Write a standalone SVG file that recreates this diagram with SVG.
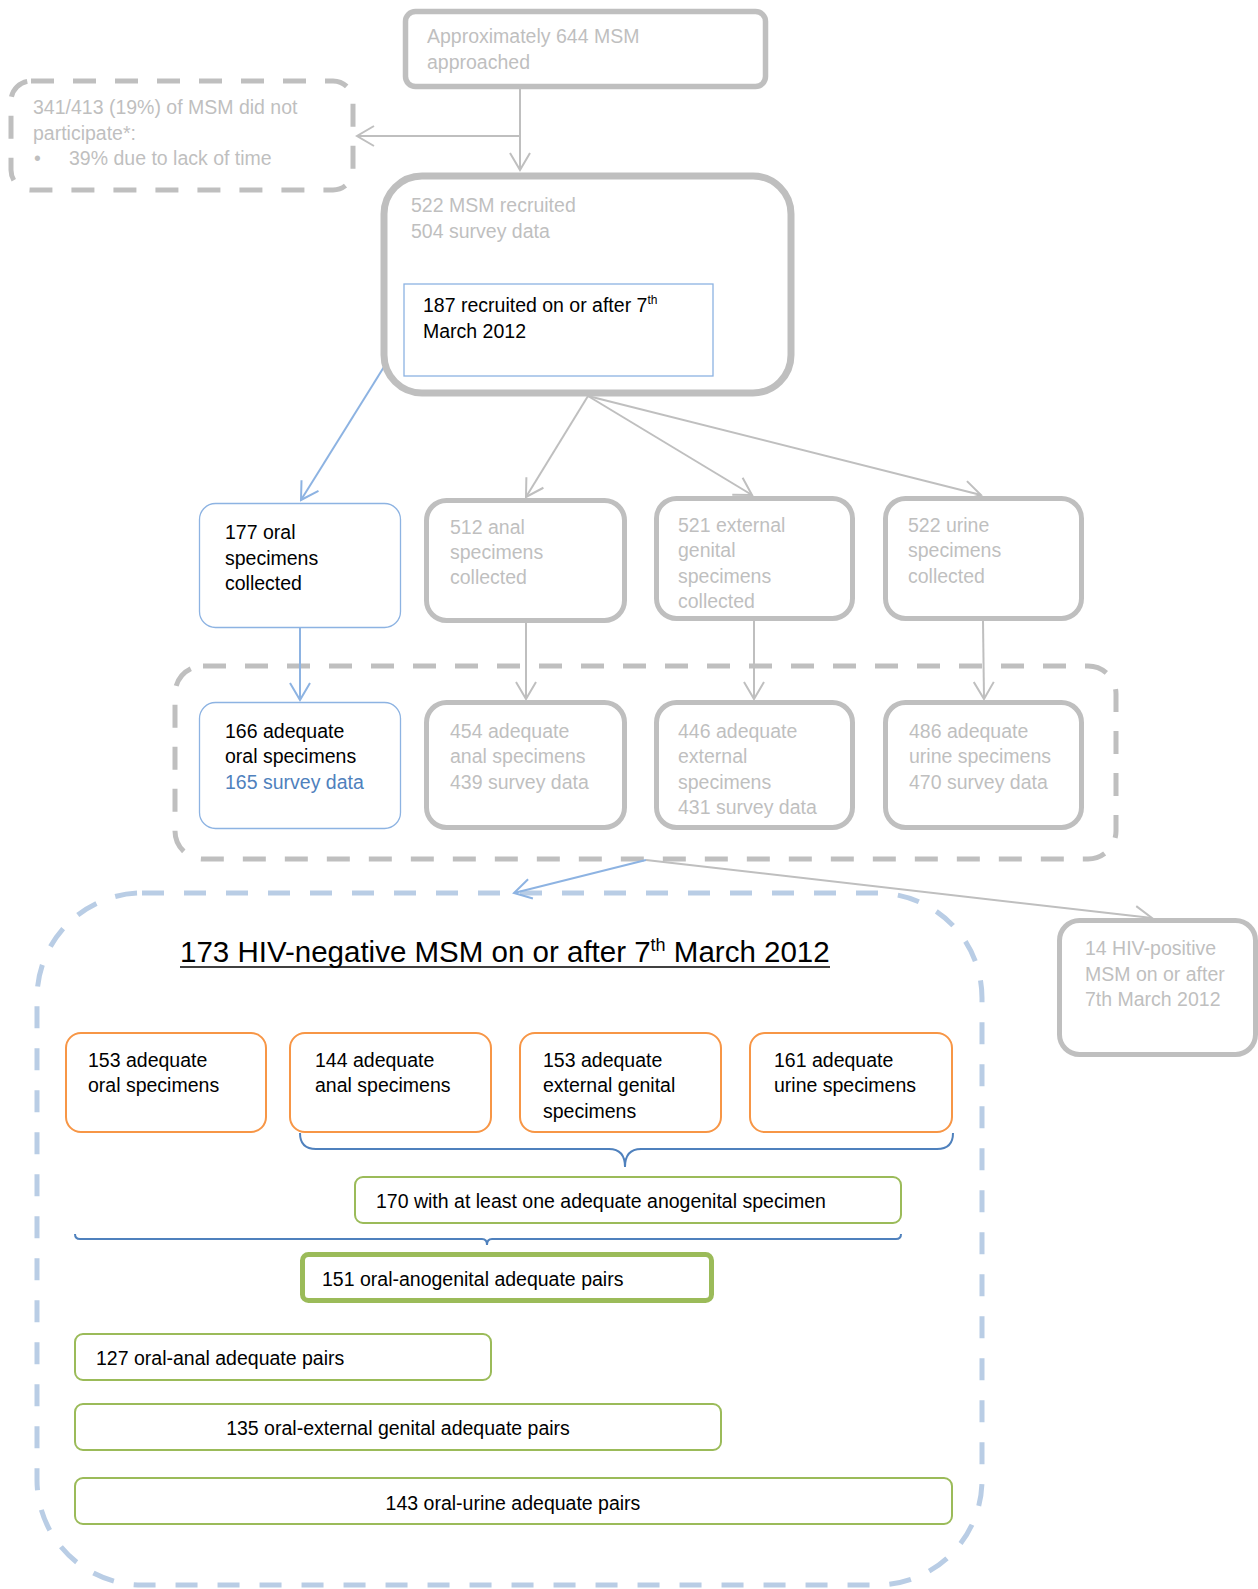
<svg xmlns="http://www.w3.org/2000/svg" width="1258" height="1589" viewBox="0 0 1258 1589">
<style>
text{font-family:"Liberation Sans",Arial,sans-serif;font-size:19.5px;fill:#000}
.g{fill:#bfbfbf}
.bt{fill:#4f81bd}
.gbox{fill:#fff;stroke:#bfbfbf;stroke-width:5}
.gdash{fill:none;stroke:#bfbfbf;stroke-width:5;stroke-dasharray:23 19}
.bdash{fill:none;stroke:#b9cde5;stroke-width:5;stroke-dasharray:22 20}
.bbox{fill:#fff;stroke:#8db3e2;stroke-width:1.3}
.obox{fill:#fff;stroke:#f79646;stroke-width:2}
.grn{fill:#fff;stroke:#9bbb59;stroke-width:2}
.gline{fill:none;stroke:#bfbfbf;stroke-width:2}
.bline{fill:none;stroke:#8db3e2;stroke-width:2}
.brace{fill:none;stroke:#4f81bd;stroke-width:2}
.sup{font-size:12px}
</style>
<defs>
<marker id="ag" markerUnits="userSpaceOnUse" markerWidth="20" markerHeight="22" viewBox="0 0 20 22" refX="18" refY="11" orient="auto"><path d="M1,1 L18,11 L1,21" fill="none" stroke="#bfbfbf" stroke-width="2"/></marker>
<marker id="ab" markerUnits="userSpaceOnUse" markerWidth="20" markerHeight="22" viewBox="0 0 20 22" refX="18" refY="11" orient="auto"><path d="M1,1 L18,11 L1,21" fill="none" stroke="#8db3e2" stroke-width="2"/></marker>
</defs>
<rect width="1258" height="1589" fill="#fff"/>

<g id="group-adequate">
<rect class="gdash" x="175" y="666" width="941" height="193" rx="28"/>
</g>
<g id="group-hivneg">
<rect class="bdash" x="37" y="893" width="945" height="692" rx="105"/>
</g>

<g id="connectors">
<line class="gline" x1="520" y1="89" x2="520" y2="170" marker-end="url(#ag)"/>
<line class="gline" x1="520" y1="136" x2="357" y2="136" marker-end="url(#ag)"/>
<line class="bline" x1="402" y1="338" x2="301" y2="500" marker-end="url(#ab)"/>
<line class="gline" x1="588" y1="396" x2="526" y2="497" marker-end="url(#ag)"/>
<line class="gline" x1="588" y1="396" x2="752" y2="495" marker-end="url(#ag)"/>
<line class="gline" x1="588" y1="396" x2="981" y2="495" marker-end="url(#ag)"/>
<line class="bline" x1="300" y1="628" x2="300" y2="700" marker-end="url(#ab)"/>
<line class="gline" x1="526" y1="623" x2="526" y2="699" marker-end="url(#ag)"/>
<line class="gline" x1="754" y1="621" x2="754" y2="699" marker-end="url(#ag)"/>
<line class="gline" x1="983" y1="621" x2="984" y2="699" marker-end="url(#ag)"/>
<line class="bline" x1="646" y1="860" x2="514" y2="893" marker-end="url(#ab)"/>
<line class="gline" x1="646" y1="860" x2="1152" y2="918" marker-end="url(#ag)"/>
<path class="brace" d="M300,1133 Q300,1149 316,1149 L609,1149 Q625,1149 625,1167 Q625,1149 641,1149 L937,1149 Q953,1149 953,1133"/>
<path class="brace" d="M75,1234 Q75,1239 80,1239 L482,1239 Q487,1239 487,1245 Q487,1239 492,1239 L896,1239 Q901,1239 901,1234"/>
</g>

<g id="approached">
<rect class="gbox" x="405.5" y="11.5" width="360" height="75" rx="10" style="stroke-width:5.5"/>
<text class="g" x="427" y="43">Approximately 644 MSM</text>
<text class="g" x="427" y="69">approached</text>
</g>

<g id="not-participate">
<rect class="gdash" x="11" y="81" width="342" height="109" rx="20"/>
<text class="g" x="33" y="114">341/413 (19%) of MSM did not</text>
<text class="g" x="33" y="140">participate*:</text>
<text class="g" x="34" y="165">•</text>
<text class="g" x="69" y="165">39% due to lack of time</text>
</g>

<g id="recruited">
<rect class="gbox" x="384" y="176" width="407" height="217" rx="38" style="stroke-width:7"/>
<text class="g" x="411" y="212">522 MSM recruited</text>
<text class="g" x="411" y="238">504 survey data</text>
</g>

<g id="recruited-after">
<rect x="404" y="284" width="309" height="92" fill="#fff" stroke="#8db3e2" stroke-width="1.3"/>
<text x="423" y="312">187 recruited on or after 7<tspan class="sup" dy="-8">th</tspan></text>
<text x="423" y="338">March 2012</text>
</g>

<g id="oral-collected">
<rect class="bbox" x="199.5" y="503.5" width="201" height="124" rx="16"/>
<text x="225" y="539">177 oral</text>
<text x="225" y="565">specimens</text>
<text x="225" y="590">collected</text>
</g>
<g id="anal-collected">
<rect class="gbox" x="426.5" y="500.5" width="198" height="120" rx="20"/>
<text class="g" x="450" y="534">512 anal</text>
<text class="g" x="450" y="559">specimens</text>
<text class="g" x="450" y="584">collected</text>
</g>
<g id="external-collected">
<rect class="gbox" x="656.5" y="498.5" width="196" height="120" rx="20"/>
<text class="g" x="678" y="532">521 external</text>
<text class="g" x="678" y="557">genital</text>
<text class="g" x="678" y="583">specimens</text>
<text class="g" x="678" y="608">collected</text>
</g>
<g id="urine-collected">
<rect class="gbox" x="885.5" y="498.5" width="196" height="120" rx="20"/>
<text class="g" x="908" y="532">522 urine</text>
<text class="g" x="908" y="557">specimens</text>
<text class="g" x="908" y="583">collected</text>
</g>

<g id="oral-adequate">
<rect class="bbox" x="199.5" y="702.5" width="201" height="126" rx="16"/>
<text x="225" y="738">166 adequate</text>
<text x="225" y="763">oral specimens</text>
<text class="bt" x="225" y="789">165 survey data</text>
</g>
<g id="anal-adequate">
<rect class="gbox" x="426.5" y="702.5" width="198" height="125" rx="20"/>
<text class="g" x="450" y="738">454 adequate</text>
<text class="g" x="450" y="763">anal specimens</text>
<text class="g" x="450" y="789">439 survey data</text>
</g>
<g id="external-adequate">
<rect class="gbox" x="656.5" y="702.5" width="196" height="125" rx="20"/>
<text class="g" x="678" y="738">446 adequate</text>
<text class="g" x="678" y="763">external</text>
<text class="g" x="678" y="789">specimens</text>
<text class="g" x="678" y="814">431 survey data</text>
</g>
<g id="urine-adequate">
<rect class="gbox" x="885.5" y="702.5" width="196" height="125" rx="20"/>
<text class="g" x="909" y="738">486 adequate</text>
<text class="g" x="909" y="763">urine specimens</text>
<text class="g" x="909" y="789">470 survey data</text>
</g>

<g id="hiv-positive">
<rect class="gbox" x="1059.5" y="920.5" width="196" height="134" rx="20"/>
<text class="g" x="1085" y="955">14 HIV-positive</text>
<text class="g" x="1085" y="981">MSM on or after</text>
<text class="g" x="1085" y="1006">7th March 2012</text>
</g>

<g id="hiv-negative-title">
<text x="180" y="962" style="font-size:29.5px">173 HIV-negative MSM on or after 7<tspan style="font-size:18px" dy="-11">th</tspan><tspan dy="11"> March 2012</tspan></text>
<line x1="180" y1="967" x2="830" y2="967" stroke="#000" stroke-width="1.6"/>
</g>

<g id="oral-153">
<rect class="obox" x="66" y="1033" width="200" height="99" rx="15"/>
<text x="88" y="1067">153 adequate</text>
<text x="88" y="1092">oral specimens</text>
</g>
<g id="anal-144">
<rect class="obox" x="290" y="1033" width="201" height="99" rx="15"/>
<text x="315" y="1067">144 adequate</text>
<text x="315" y="1092">anal specimens</text>
</g>
<g id="external-153">
<rect class="obox" x="520" y="1033" width="201" height="99" rx="15"/>
<text x="543" y="1067">153 adequate</text>
<text x="543" y="1092">external genital</text>
<text x="543" y="1118">specimens</text>
</g>
<g id="urine-161">
<rect class="obox" x="750" y="1033" width="202" height="99" rx="15"/>
<text x="774" y="1067">161 adequate</text>
<text x="774" y="1092">urine specimens</text>
</g>

<g id="anogenital-170">
<rect class="grn" x="355" y="1177" width="546" height="46" rx="8"/>
<text x="376" y="1208">170 with at least one adequate anogenital specimen</text>
</g>
<g id="pairs-151">
<rect class="grn" x="302.5" y="1254.5" width="409" height="46" rx="6" style="stroke-width:5"/>
<text x="322" y="1286">151 oral-anogenital adequate pairs</text>
</g>
<g id="pairs-127">
<rect class="grn" x="75" y="1334" width="416" height="46" rx="8"/>
<text x="96" y="1365">127 oral-anal adequate pairs</text>
</g>
<g id="pairs-135">
<rect class="grn" x="75" y="1404" width="646" height="46" rx="8"/>
<text x="398" y="1435" text-anchor="middle">135 oral-external genital adequate pairs</text>
</g>
<g id="pairs-143">
<rect class="grn" x="75" y="1478" width="877" height="46" rx="8"/>
<text x="513" y="1510" text-anchor="middle">143 oral-urine adequate pairs</text>
</g>
</svg>
